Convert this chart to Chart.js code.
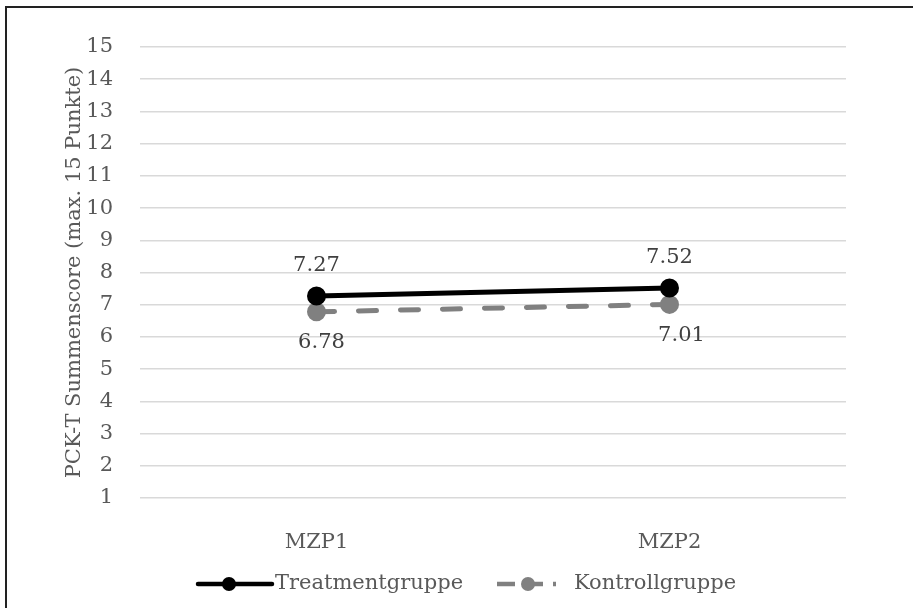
<!DOCTYPE html>
<html>
<head>
<title>PCK-T Summenscore</title>
<script src="https://cdn.jsdelivr.net/npm/chart.js"></script>
<style>
  body { margin: 0; background: #fff; }
  .frame { position: absolute; left: 5px; top: 6px; width: 930px; height: 640px; border: 2px solid #222; }
  .wrap { position: absolute; left: 0; top: 0; width: 913px; height: 608px; }
</style>
</head>
<body>
<div class="frame"></div>
<div class="wrap"><canvas id="chart" width="913" height="608"></canvas></div>
<script>
var labels = ['MZP1', 'MZP2'];
var treatment = [7.27, 7.52];
var kontroll = [6.78, 7.01];
var yTicks = [1, 15];
var seriesNames = ['Treatmentgruppe', 'Kontrollgruppe'];

var font = 'DejaVu Serif';
var txt = '#595959';

// values written next to the points
var valueLabels = {
    id: 'valueLabels',
    afterDatasetsDraw: function (chart) {
        var ctx = chart.ctx;
        ctx.save();
        ctx.font = '21px "' + font + '"';
        ctx.fillStyle = '#404040';
        ctx.textAlign = 'center';
        ctx.textBaseline = 'middle';
        chart.data.datasets.forEach(function (ds, di) {
            var meta = chart.getDatasetMeta(di);
            meta.data.forEach(function (pt, i) {
                var dx = 0, dy = -30;
                if (di === 1) { dy = 31; dx = i === 1 ? 12 : 5; }
                ctx.fillText(ds.data[i].toFixed(2), pt.x + dx, pt.y + dy);
            });
        });
        ctx.restore();
    }
};

// legend like the office style: line with marker in the middle
var lineLegend = {
    id: 'lineLegend',
    afterDraw: function (chart) {
        var ctx = chart.ctx;
        var y = 584;
        var items = [{ x: 198, len: 74, cap: 'round', dash: [] },
                     { x: 497, len: 59, cap: 'butt', dash: [18, 10] }];
        ctx.save();
        chart.data.datasets.forEach(function (ds, i) {
            var it = items[i];
            ctx.strokeStyle = ds.borderColor;
            ctx.lineWidth = 4.5;
            ctx.lineCap = it.cap;
            ctx.setLineDash(it.dash);
            ctx.beginPath();
            ctx.moveTo(it.x, y);
            ctx.lineTo(it.x + it.len, y);
            ctx.stroke();
            ctx.setLineDash([]);
            ctx.fillStyle = ds.pointBackgroundColor;
            ctx.beginPath();
            ctx.arc(it.x + 31, y, 7, 0, Math.PI * 2);
            ctx.fill();
            ctx.font = '21px "' + font + '"';
            ctx.fillStyle = txt;
            ctx.textAlign = 'left';
            ctx.textBaseline = 'middle';
            ctx.fillText(ds.label, it.x + 77, y);
        });
        ctx.restore();
    }
};

var ctx = document.getElementById('chart').getContext('2d');
var chart = new Chart(ctx, {
    type: 'line',
    data: {
        labels: labels,
        datasets: [{
            label: seriesNames[0],
            data: treatment,
            borderColor: '#000000',
            backgroundColor: '#000000',
            pointBackgroundColor: '#000000',
            pointBorderColor: '#000000',
            borderWidth: 5,
            pointRadius: 7,
            pointHoverRadius: 7,
            tension: 0
        }, {
            label: seriesNames[1],
            data: kontroll,
            borderColor: '#808080',
            backgroundColor: '#808080',
            pointBackgroundColor: '#808080',
            pointBorderColor: '#808080',
            borderWidth: 5,
            borderDash: [18, 24],
            borderCapStyle: 'round',
            pointRadius: 7,
            pointHoverRadius: 7,
            tension: 0
        }]
    },
    options: {
        responsive: false,
        animation: false,
        layout: { padding: { left: 55, right: 67, top: 47, bottom: 0 } },
        plugins: {
            legend: { display: false },
            tooltip: { enabled: false }
        },
        scales: {
            x: {
                offset: true,
                grid: { display: false, drawTicks: false },
                border: { display: false },
                ticks: { color: txt, font: { family: font, size: 21 }, padding: 32 },
                afterFit: function (s) { s.height = 110; }
            },
            y: {
                min: yTicks[0],
                max: yTicks[1],
                ticks: { stepSize: 1, color: txt, font: { family: font, size: 21 }, padding: 27 },
                grid: { color: '#d9d9d9', lineWidth: 1.5, drawTicks: false },
                border: { display: false },
                title: {
                    display: true,
                    text: 'PCK-T Summenscore (max. 15 Punkte)',
                    color: txt,
                    font: { family: font, size: 21 },
                    padding: { top: 7, bottom: 0 }
                },
                afterFit: function (s) { s.width = 85; }
            }
        }
    },
    plugins: [valueLabels, lineLegend]
});
</script>
</body>
</html>
